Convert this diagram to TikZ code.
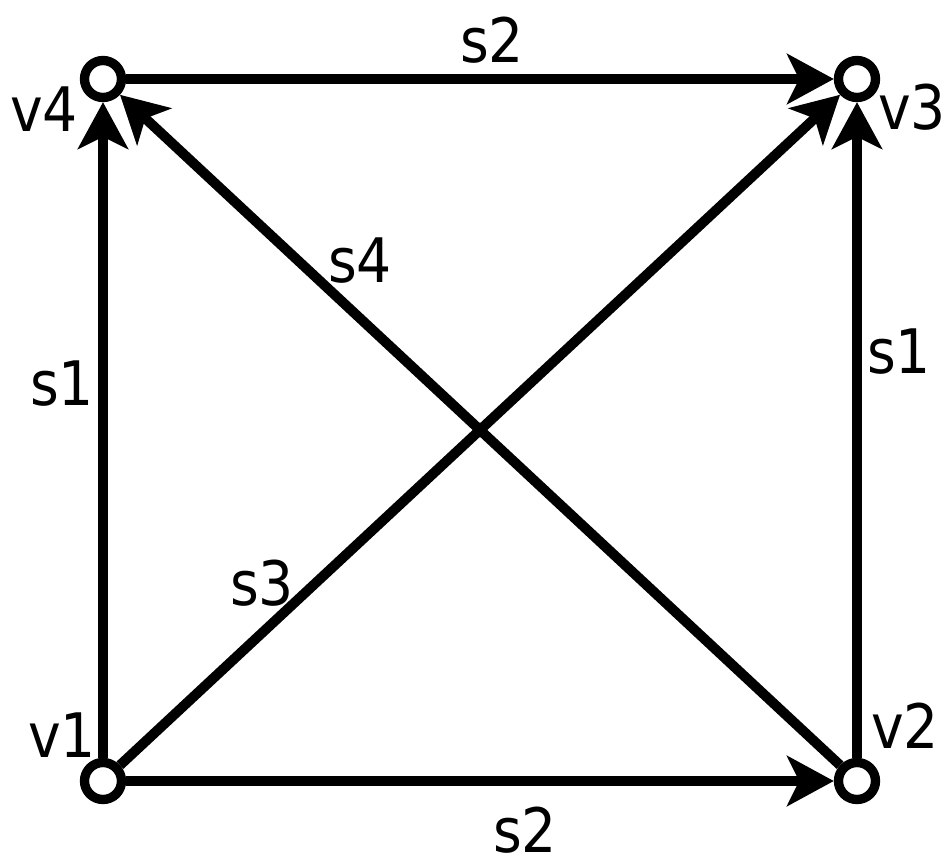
\documentclass[tikz,border=0pt]{standalone}
\usepackage{fontspec}
\setmainfont[FakeStretch=0.9]{DejaVu Sans}
\usetikzlibrary{arrows.meta}
\begin{document}
\begin{tikzpicture}[x=0.75pt,y=-0.75pt,
  vertex/.style={circle,draw=black,fill=white,line width=7pt,minimum size=37*0.75pt,inner sep=0pt},
  edge/.style={line width=7.5pt,-{Stealth[length=35pt,width=37.5pt,inset=9pt]}},
  lbl/.style={anchor=base,inner sep=0pt,font=\fontsize{46}{50}\selectfont}]
\useasboundingbox (0,0) rectangle (951,867);
\node[vertex] (v1) at (103,781) {};
\node[vertex] (v2) at (857,781) {};
\node[vertex] (v3) at (857,79) {};
\node[vertex] (v4) at (103,79) {};
\draw[edge] (v1) -- (v2);
\draw[edge] (v4) -- (v3);
\draw[edge] (v1) -- (v4);
\draw[edge] (v2) -- (v3);
\draw[edge] (v1) -- (v3);
\draw[edge] (v2) -- (v4);
\node[lbl] (ls2t) at (492,63) {s2};
\node[lbl] (ls2b) at (525,852) {s2};
\node[lbl] (ls1l) at (62,405) {s1};
\node[lbl] (ls1r) at (899,373) {s1};
\node[lbl] (ls4) at (360,282) {s4};
\node[lbl] (ls3) at (262,605) {s3};
\node[lbl] (lv1) at (62,757) {v1};
\node[lbl] (lv2) at (905,748) {v2};
\node[lbl] (lv3) at (912,130) {v3};
\node[lbl] (lv4) at (44,132) {v4};
\end{tikzpicture}
\end{document}
